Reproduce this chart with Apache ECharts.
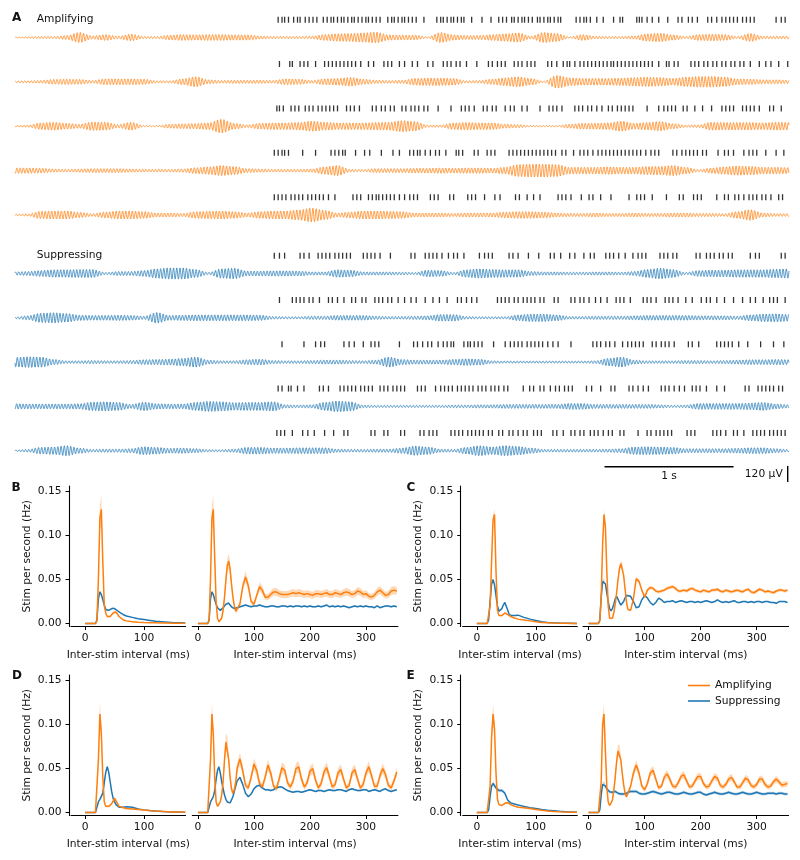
<!DOCTYPE html>
<html><head><meta charset="utf-8">
<script src="https://cdn.jsdelivr.net/npm/echarts@6/dist/echarts.min.js"></script>
<style>html,body{margin:0;padding:0;background:#fff}#c{width:800px;height:860px}</style>
</head><body><div id="c"></div>
<script>
// ================= Panel A : LFP envelopes (µV) read every 0.1 s, and stim times (s) =================
const envTimes = [-2.0,-1.9,-1.8,-1.7,-1.6,-1.5,-1.4,-1.3,-1.2,-1.1,-1.0,-0.9,-0.8,-0.7,-0.6,-0.5,-0.4,-0.3,-0.2,-0.1,
  0.0,0.1,0.2,0.3,0.4,0.5,0.6,0.7,0.8,0.9,1.0,1.1,1.2,1.3,1.4,1.5,1.6,1.7,1.8,1.9,
  2.0,2.1,2.2,2.3,2.4,2.5,2.6,2.7,2.8,2.9,3.0,3.1,3.2,3.3,3.4,3.5,3.6,3.7,3.8,3.9,4.0];

const envAmp1 = [2,6,8,8,15,38,12,22,10,25, 8,8,18,22,20,22,22,20,20,12, 8,8,8,10,22,28,30,35,40,20, 18,18,5,38,20,15,15,22,28,35, 10,38,30,5,22,10,8,8,12,28, 32,20,8,22,25,22,8,30,10,10, 10];
const envAmp2 = [6,8,10,18,20,18,10,22,22,22, 20,8,8,22,38,15,10,12,12,12, 10,22,20,10,22,25,33,20,12,10, 12,25,28,28,25,8,10,20,30,38, 25,5,48,30,25,25,25,28,32,35, 32,25,35,40,40,35,22,20,15,15, 12];
const envAmp3 = [6,8,25,30,22,15,32,30,12,30, 5,4,15,18,20,25,52,22,10,22, 25,25,28,38,30,25,25,25,28,30, 42,35,8,8,25,28,25,25,15,12, 5,5,5,15,22,22,25,38,22,28, 35,20,8,10,30,28,28,28,25,30, 28];
const envAmp4 = [20,20,18,12,10,12,15,15,15,12, 10,10,10,12,22,28,38,30,15,12, 10,10,10,12,28,38,10,8,15,15, 15,18,18,20,18,20,20,18,25,45, 48,48,45,25,25,25,28,25,25,30, 32,38,25,8,20,28,35,32,25,25, 22];
const envAmp5 = [6,8,28,30,30,20,10,22,30,30, 25,15,15,12,25,28,30,25,15,25, 30,30,38,52,35,15,22,30,30,28, 25,15,15,15,12,15,15,15,22,25, 25,22,15,12,12,15,12,12,15,12, 12,15,15,12,12,10,25,40,15,10, 10];
const envSup1 = [12,15,22,28,28,30,30,8,15,15, 22,35,42,42,30,8,35,40,18,18, 20,20,18,12,12,28,25,12,12,12, 10,8,25,22,8,28,35,30,28,28, 15,12,12,10,10,12,12,10,15,30, 40,30,8,22,25,25,28,28,28,32, 35];
const envSup2 = [6,15,35,38,32,20,18,18,20,18, 12,40,18,20,22,22,22,22,22,20, 10,8,8,12,12,18,18,18,12,10, 10,12,15,25,25,10,8,8,8,22, 28,28,22,10,10,12,12,12,15,18, 18,18,18,15,15,15,12,22,28,30, 25];
const envSup3 = [35,40,38,20,10,10,12,10,10,12, 18,20,22,28,38,15,10,10,18,22, 12,10,10,12,15,15,12,10,15,38, 20,15,15,15,20,25,22,10,8,8, 8,8,8,8,8,10,28,38,15,10, 10,10,12,12,10,12,15,18,18,20, 18];
const envSup4 = [20,18,18,18,18,20,32,35,30,15, 32,20,18,18,30,38,35,28,30,30, 35,12,10,12,30,40,35,10,8,8, 8,8,8,8,10,10,12,12,15,15, 15,15,15,22,22,15,15,15,15,15, 12,8,10,22,22,22,22,25,30,18, 12];
const envSup5 = [6,10,25,28,38,20,10,12,12,15, 30,25,18,20,15,8,8,12,25,25, 20,20,22,22,22,12,10,10,12,12, 20,35,28,12,10,25,38,28,38,32, 20,10,10,10,10,10,12,15,28,30, 28,25,15,15,15,15,18,22,22,15, 8];

const spikesAmp1 = [0.04,0.07,0.09,0.12,0.16,0.19,0.21,0.25,0.28,0.31,0.34,0.39,0.42,0.45,0.47,0.50,0.53,0.55,0.58,0.61,0.63,0.66,0.69,0.72,0.74,0.77,0.80,0.83,0.89,0.92,0.94,0.97,1.00,1.02,1.05,1.08,1.11,1.17,1.27,1.30,1.32,1.35,1.38,1.40,1.43,1.46,1.48,1.54,1.62,1.69,1.75,1.78,1.81,1.85,1.87,1.90,1.93,1.95,1.98,2.01,2.05,2.07,2.10,2.13,2.15,2.18,2.21,2.23,2.35,2.38,2.41,2.43,2.46,2.51,2.56,2.64,2.69,2.71,2.82,2.84,2.86,2.90,2.94,2.99,3.06,3.14,3.17,3.22,3.25,3.29,3.37,3.40,3.44,3.48,3.51,3.54,3.57,3.60,3.64,3.67,3.70,3.73,3.90,3.94,3.97];
const spikesAmp2 = [0.05,0.13,0.15,0.21,0.24,0.27,0.33,0.40,0.43,0.46,0.49,0.52,0.55,0.58,0.61,0.64,0.68,0.74,0.78,0.86,0.89,0.92,0.98,1.02,1.08,1.12,1.20,1.24,1.32,1.35,1.38,1.42,1.45,1.50,1.58,1.67,1.70,1.74,1.77,1.80,1.87,1.90,1.93,1.97,2.00,2.03,2.13,2.16,2.20,2.25,2.28,2.30,2.34,2.38,2.41,2.44,2.47,2.50,2.53,2.56,2.59,2.62,2.64,2.67,2.70,2.73,2.76,2.79,2.82,2.85,2.88,2.91,2.94,2.99,3.05,3.07,3.11,3.14,3.24,3.27,3.30,3.34,3.37,3.41,3.44,3.48,3.51,3.55,3.58,3.62,3.65,3.70,3.77,3.82,3.86,3.92,3.99];
const spikesAmp3 = [0.03,0.05,0.08,0.14,0.17,0.20,0.25,0.28,0.31,0.35,0.38,0.41,0.44,0.47,0.50,0.57,0.60,0.63,0.67,0.77,0.80,0.84,0.87,0.91,0.94,1.00,1.03,1.07,1.10,1.13,1.17,1.20,1.28,1.38,1.46,1.49,1.52,1.56,1.63,1.66,1.70,1.73,1.80,1.84,1.87,1.93,1.97,2.07,2.14,2.17,2.20,2.24,2.34,2.37,2.40,2.44,2.47,2.51,2.55,2.60,2.63,2.67,2.70,2.73,2.76,2.79,2.90,2.99,3.03,3.06,3.09,3.12,3.18,3.21,3.27,3.33,3.40,3.48,3.51,3.54,3.57,3.64,3.67,3.70,3.73,3.77,3.85,3.88,3.94];
const spikesAmp4 = [0.01,0.04,0.07,0.09,0.12,0.23,0.33,0.45,0.48,0.51,0.54,0.56,0.64,0.71,0.75,0.84,0.93,0.98,1.06,1.09,1.12,1.14,1.18,1.22,1.26,1.29,1.34,1.42,1.44,1.47,1.56,1.59,1.66,1.69,1.72,1.83,1.86,1.89,1.92,1.95,1.98,2.01,2.04,2.07,2.10,2.13,2.16,2.19,2.24,2.27,2.33,2.38,2.41,2.44,2.48,2.52,2.55,2.58,2.61,2.64,2.67,2.70,2.73,2.76,2.79,2.82,2.85,2.89,2.93,2.96,2.99,3.10,3.13,3.17,3.20,3.23,3.26,3.29,3.33,3.36,3.45,3.50,3.53,3.57,3.65,3.69,3.72,3.75,3.82,3.90,3.96];
const spikesAmp5 = [0.01,0.04,0.07,0.10,0.14,0.17,0.20,0.23,0.27,0.30,0.33,0.36,0.39,0.43,0.48,0.62,0.65,0.68,0.74,0.77,0.80,0.82,0.85,0.88,0.91,0.94,0.98,1.02,1.06,1.09,1.12,1.22,1.25,1.28,1.37,1.40,1.51,1.54,1.57,1.64,1.72,1.76,1.88,1.91,1.97,2.02,2.07,2.21,2.24,2.27,2.31,2.39,2.45,2.48,2.54,2.62,2.76,2.82,2.85,2.88,2.94,3.05,3.15,3.18,3.26,3.29,3.32,3.44,3.50,3.53,3.58,3.61,3.65,3.69,3.72,3.75,3.79,3.82,3.86,3.92,3.95];
const spikesSup1 = [0.01,0.05,0.09,0.21,0.24,0.28,0.35,0.38,0.41,0.44,0.48,0.51,0.54,0.57,0.60,0.70,0.73,0.76,0.79,0.83,0.91,1.07,1.10,1.18,1.21,1.24,1.27,1.31,1.36,1.40,1.43,1.48,1.60,1.64,1.67,1.70,1.83,1.86,1.90,1.98,2.06,2.15,2.18,2.23,2.30,2.34,2.41,2.46,2.49,2.58,2.61,2.64,2.68,2.73,2.79,2.83,2.86,2.89,3.00,3.03,3.06,3.10,3.13,3.28,3.31,3.36,3.39,3.42,3.46,3.49,3.53,3.56,3.70,3.74,3.77,3.94,3.97];
const spikesSup2 = [0.05,0.15,0.18,0.21,0.24,0.28,0.31,0.36,0.43,0.46,0.50,0.55,0.61,0.64,0.69,0.72,0.79,0.82,0.85,0.89,0.92,0.97,1.02,1.07,1.11,1.18,1.24,1.29,1.35,1.43,1.46,1.50,1.54,1.58,1.74,1.77,1.80,1.83,1.87,1.90,1.94,1.97,2.00,2.03,2.07,2.10,2.18,2.21,2.31,2.34,2.38,2.41,2.45,2.50,2.54,2.59,2.66,2.69,2.72,2.77,2.87,2.90,2.93,2.97,3.04,3.07,3.10,3.14,3.20,3.25,3.32,3.36,3.39,3.44,3.50,3.57,3.64,3.70,3.74,3.80,3.85,3.88,3.91,3.97];
const spikesSup3 = [0.07,0.24,0.33,0.37,0.40,0.55,0.59,0.63,0.70,0.76,0.79,0.82,0.98,1.09,1.12,1.16,1.20,1.23,1.28,1.32,1.35,1.38,1.40,1.48,1.51,1.53,1.56,1.59,1.62,1.71,1.80,1.84,1.87,1.90,1.93,1.97,2.00,2.03,2.06,2.09,2.13,2.17,2.21,2.31,2.48,2.51,2.54,2.58,2.61,2.65,2.71,2.75,2.78,2.81,2.84,2.87,2.94,2.97,3.01,3.04,3.07,3.11,3.22,3.25,3.30,3.44,3.47,3.50,3.53,3.56,3.61,3.68,3.78,3.88,3.96];
const spikesSup4 = [0.04,0.07,0.12,0.14,0.19,0.24,0.36,0.39,0.43,0.52,0.55,0.58,0.61,0.64,0.68,0.71,0.74,0.77,0.83,0.86,0.89,0.93,0.96,0.99,1.02,1.12,1.15,1.18,1.26,1.30,1.33,1.36,1.39,1.43,1.46,1.49,1.52,1.55,1.59,1.62,1.65,1.69,1.72,1.75,1.79,1.82,1.94,1.99,2.02,2.07,2.10,2.15,2.19,2.22,2.26,2.29,2.32,2.43,2.47,2.54,2.62,2.65,2.76,2.79,2.83,2.87,2.91,3.01,3.04,3.07,3.11,3.15,3.19,3.25,3.28,3.31,3.36,3.44,3.50,3.66,3.69,3.76,3.79,3.82,3.85,3.88,3.92,3.95];
const spikesSup5 = [0.03,0.06,0.09,0.15,0.23,0.27,0.32,0.40,0.47,0.55,0.58,0.76,0.79,0.86,0.89,0.99,1.02,1.14,1.17,1.21,1.24,1.27,1.38,1.41,1.44,1.47,1.51,1.54,1.57,1.60,1.63,1.67,1.70,1.75,1.78,1.83,1.86,1.90,1.94,1.97,2.02,2.05,2.08,2.17,2.20,2.25,2.31,2.34,2.38,2.41,2.46,2.49,2.52,2.56,2.60,2.63,2.69,2.72,2.83,2.90,2.93,2.97,3.00,3.03,3.06,3.09,3.21,3.24,3.27,3.41,3.44,3.47,3.51,3.57,3.60,3.65,3.72,3.75,3.78,3.81,3.85,3.88,3.91,3.94,3.97];

// ================= Panels B–E : inter-stim interval distributions (Hz) =================
const isiLeftX = [0,10,17.5,20,22.5,25,27.5,30,32.5,35,37.5,40,42.5,45,47.5,50,52.5,55,57.5,60,65,70,80,90,100,110,120,130,140,150,160,170];
const isiRightX = [0,10,17.5,20,22.5,25,27.5,30,32.5,35,37.5,40,42.5,45,47.5,50,52.5,55,57.5,60,62.5,65,67.5,70,
  75,80,85,90,95,100,105,110,115,120,125,130,135,140,145,150,155,160,165,170,175,180,185,190,195,200,
  205,210,215,220,225,230,235,240,245,250,255,260,265,270,275,280,285,290,295,300,305,310,315,320,325,330,335,340,345,350,355];

const B_leftAmp = [0,0,0,0.003,0.05,0.12,0.13,0.07,0.02,0.012, 0.008,0.007,0.008,0.010,0.012,0.0135,0.013,0.011,0.008,0.006, 0.004,0.003,0.002,0.0015,0.0012,0.001,0.0008,0.0006,0.0005,0.0004, 0.0003,0.0002];
const B_leftSup = [0,0,0,0.004,0.028,0.036,0.033,0.027,0.021,0.016, 0.014,0.015,0.016,0.017,0.018,0.017,0.016,0.0145,0.013,0.012, 0.010,0.0085,0.007,0.0055,0.0045,0.0035,0.0025,0.002,0.0015,0.001, 0.0008,0.0005];
const B_rightAmp = [0,0,0,0.003,0.05,0.12,0.13,0.075,0.025,0.006,0.002,0.002,0.006,0.015,0.03,0.05,0.066,0.071,0.062,0.045,0.03,0.02,0.014,0.014,
  0.022,0.042,0.053,0.043,0.025,0.022,0.032,0.042,0.038,0.03, 0.03,0.033,0.036,0.036,0.034,0.033,0.033,0.033,0.034,0.035, 0.034,0.035,0.034,0.033,0.034,0.033,0.032,0.034,0.034,0.033,
  0.034,0.035,0.033,0.033,0.035,0.034,0.033,0.035,0.036,0.035, 0.033,0.034,0.037,0.036,0.033,0.034,0.031,0.03,0.032,0.036, 0.038,0.035,0.032,0.033,0.037,0.038,0.037];
const B_rightSup = [0,0,0,0.004,0.028,0.036,0.033,0.027,0.022,0.018,0.016,0.015,0.016,0.018,0.02,0.022,0.024,0.023,0.021,0.019,0.018,0.017,0.017,0.018,
  0.019,0.02,0.021,0.02,0.019,0.02,0.02,0.021,0.02,0.019, 0.019,0.02,0.02,0.019,0.019,0.02,0.02,0.019,0.02,0.019, 0.02,0.02,0.019,0.02,0.019,0.02,0.019,0.019,0.02,0.019,
  0.02,0.021,0.019,0.02,0.019,0.02,0.019,0.02,0.019,0.018, 0.019,0.02,0.019,0.02,0.019,0.02,0.019,0.019,0.018,0.02, 0.018,0.019,0.02,0.02,0.019,0.02,0.019];

const C_leftAmp = [0,0,0,0.002,0.02,0.07,0.118,0.124,0.06,0.015, 0.009,0.008,0.009,0.011,0.012,0.0115,0.010,0.009,0.008,0.007, 0.006,0.005,0.004,0.003,0.002,0.0012,0.0008,0.0005,0.0003,0.0002, 0.0001,0.0001];
const C_leftSup = [0,0,0,0.004,0.025,0.045,0.05,0.044,0.032,0.02, 0.014,0.014,0.017,0.021,0.024,0.022,0.015,0.010,0.009,0.009, 0.009,0.0095,0.007,0.005,0.0035,0.002,0.0012,0.0008,0.0005,0.0003, 0.0002,0.0001];
const C_rightAmp = [0,0,0,0.003,0.03,0.09,0.124,0.11,0.06,0.02,0.006,0.004,0.006,0.012,0.022,0.035,0.05,0.062,0.068,0.066,0.055,0.04,0.025,0.016,
  0.015,0.028,0.051,0.048,0.038,0.03,0.038,0.041,0.04,0.037, 0.036,0.037,0.038,0.040,0.041,0.042,0.040,0.037,0.037,0.038, 0.037,0.039,0.040,0.038,0.037,0.036,0.038,0.037,0.036,0.038,
  0.038,0.039,0.037,0.036,0.038,0.037,0.036,0.037,0.038,0.037, 0.036,0.038,0.039,0.036,0.035,0.037,0.039,0.038,0.036,0.037, 0.036,0.035,0.037,0.038,0.038,0.037,0.038];
const C_rightSup = [0,0,0,0.004,0.03,0.048,0.05,0.045,0.035,0.025,0.017,0.0145,0.017,0.022,0.028,0.031,0.029,0.024,0.021,0.022,0.025,0.029,0.032,0.032,
  0.031,0.025,0.018,0.019,0.027,0.032,0.029,0.024,0.021,0.024, 0.029,0.027,0.024,0.025,0.025,0.026,0.024,0.025,0.026,0.025, 0.024,0.025,0.025,0.024,0.025,0.024,0.025,0.026,0.025,0.024,
  0.025,0.027,0.025,0.024,0.025,0.024,0.025,0.026,0.024,0.024, 0.025,0.025,0.024,0.025,0.024,0.025,0.025,0.024,0.025,0.025, 0.024,0.024,0.023,0.025,0.025,0.025,0.024];

const D_leftAmp = [0,0,0,0.002,0.06,0.112,0.09,0.04,0.012,0.007, 0.006,0.007,0.008,0.010,0.013,0.016,0.014,0.010,0.007,0.0065, 0.0055,0.0045,0.004,0.0034,0.0028,0.002,0.0016,0.0013,0.001,0.0007, 0.0005,0.0003];
const D_leftSup = [0,0,0,0.006,0.012,0.015,0.017,0.022,0.034,0.046, 0.052,0.046,0.035,0.024,0.016,0.012,0.009,0.007,0.006,0.006, 0.006,0.0065,0.006,0.004,0.003,0.0022,0.0016,0.0012,0.001,0.0007, 0.0005,0.0003];
const D_rightAmp = [0,0,0,0.002,0.06,0.112,0.09,0.04,0.012,0.007,0.008,0.012,0.02,0.035,0.06,0.08,0.078,0.06,0.04,0.027,0.022,0.026,0.035,0.05,
  0.061,0.048,0.031,0.028,0.04,0.055,0.048,0.033,0.029,0.04, 0.054,0.045,0.03,0.027,0.038,0.051,0.048,0.034,0.029,0.036, 0.05,0.052,0.038,0.029,0.034,0.047,0.05,0.037,0.028,0.033,
  0.046,0.051,0.04,0.029,0.032,0.045,0.049,0.038,0.028,0.031, 0.045,0.049,0.038,0.028,0.032,0.045,0.052,0.042,0.03,0.03, 0.042,0.05,0.043,0.031,0.028,0.036,0.046];
const D_rightSup = [0,0,0,0.006,0.012,0.015,0.018,0.025,0.038,0.048,0.052,0.045,0.035,0.027,0.02,0.015,0.012,0.011,0.011,0.013,0.018,0.024,0.03,0.036,
  0.04,0.032,0.022,0.018,0.021,0.027,0.03,0.031,0.028,0.026, 0.026,0.025,0.026,0.028,0.029,0.029,0.027,0.025,0.024,0.023, 0.024,0.024,0.023,0.024,0.025,0.026,0.025,0.024,0.025,0.025,
  0.024,0.025,0.026,0.025,0.025,0.026,0.026,0.025,0.024,0.026, 0.027,0.026,0.025,0.025,0.026,0.026,0.024,0.025,0.026,0.025, 0.024,0.026,0.027,0.025,0.024,0.025,0.026];

const E_leftAmp = [0,0,0,0.002,0.03,0.085,0.112,0.095,0.045,0.015, 0.009,0.008,0.008,0.009,0.0105,0.0112,0.0112,0.010,0.009,0.008, 0.007,0.006,0.0055,0.0045,0.0035,0.0025,0.0018,0.0012,0.0008,0.0005, 0.0003,0.0002];
const E_leftSup = [0,0,0,0.003,0.018,0.03,0.033,0.031,0.028,0.026, 0.025,0.025,0.025,0.024,0.022,0.018,0.014,0.012,0.011,0.0105, 0.0095,0.0085,0.007,0.0055,0.0045,0.0035,0.0026,0.002,0.0014,0.001, 0.0007,0.0004];
const E_rightAmp = [0,0,0,0.002,0.035,0.1,0.112,0.07,0.03,0.012,0.008,0.009,0.014,0.025,0.04,0.058,0.07,0.07,0.06,0.045,0.032,0.022,0.018,0.02,
  0.03,0.045,0.054,0.045,0.03,0.026,0.033,0.045,0.048,0.038, 0.028,0.03,0.04,0.044,0.038,0.03,0.029,0.034,0.041,0.043, 0.036,0.029,0.03,0.036,0.041,0.041,0.033,0.029,0.03,0.036,
  0.041,0.039,0.031,0.029,0.032,0.038,0.04,0.035,0.029,0.029, 0.034,0.039,0.037,0.031,0.029,0.032,0.038,0.038,0.032,0.029, 0.03,0.035,0.038,0.035,0.031,0.032,0.033];
const E_rightSup = [0,0,0,0.003,0.02,0.032,0.033,0.03,0.027,0.025,0.0235,0.023,0.023,0.024,0.024,0.023,0.022,0.021,0.021,0.021,0.021,0.021,0.022,0.023,
  0.024,0.024,0.024,0.022,0.021,0.021,0.022,0.023,0.024,0.023, 0.022,0.021,0.022,0.023,0.023,0.022,0.021,0.021,0.022,0.023, 0.022,0.021,0.021,0.022,0.023,0.023,0.021,0.02,0.021,0.022,
  0.023,0.022,0.021,0.021,0.022,0.023,0.022,0.021,0.021,0.022, 0.023,0.022,0.021,0.021,0.022,0.023,0.022,0.021,0.021,0.022, 0.022,0.022,0.021,0.022,0.022,0.021,0.021];

// relative half-width of the shaded confidence band, read per panel
const ciRelAmp = [0.12, 0.05, 0.12, 0.10];
const ciRelSup = [0.04, 0.03, 0.04, 0.08];

const yTicks = [0, 0.05, 0.10, 0.15];
const xTicksLeft = [0, 100];
const xTicksRight = [0, 100, 200, 300];

// ================= styling / layout =================
const ORANGE = '#ff7f0e', BLUE = '#1f77b4', FONT = 'DejaVu Sans', TXT = '#111';
const CARRIER_HZ = 40;
const FS = 10.7;

const grid = [], xAxis = [], yAxis = [], series = [];
function addGrid(g, xa, ya) {
  grid.push(g);
  const gi = grid.length - 1;
  xAxis.push(Object.assign({ gridIndex: gi }, xa));
  yAxis.push(Object.assign({ gridIndex: gi }, ya));
  return gi;
}

// ---------- Panel A ----------
const traceRows = [
  { env: envAmp1, spikes: spikesAmp1, color: ORANGE, cy: 37.5 },
  { env: envAmp2, spikes: spikesAmp2, color: ORANGE, cy: 81.8 },
  { env: envAmp3, spikes: spikesAmp3, color: ORANGE, cy: 126.2 },
  { env: envAmp4, spikes: spikesAmp4, color: ORANGE, cy: 170.6 },
  { env: envAmp5, spikes: spikesAmp5, color: ORANGE, cy: 215.0 },
  { env: envSup1, spikes: spikesSup1, color: BLUE, cy: 273.5 },
  { env: envSup2, spikes: spikesSup2, color: BLUE, cy: 317.8 },
  { env: envSup3, spikes: spikesSup3, color: BLUE, cy: 362.1 },
  { env: envSup4, spikes: spikesSup4, color: BLUE, cy: 406.4 },
  { env: envSup5, spikes: spikesSup5, color: BLUE, cy: 450.7 }
];
const A_LEFT = 15, A_WIDTH = 774;
let lastTraceGrid = 0;
traceRows.forEach((row, r) => {
  const gi = addGrid({ left: A_LEFT, width: A_WIDTH, top: row.cy - 16, height: 32 },
    { type: 'value', min: -2, max: 4, show: false },
    { type: 'value', min: -120, max: 120, show: false });
  lastTraceGrid = gi;
  const env = row.env, phase = r * 1.37;
  series.push({
    type: 'custom', xAxisIndex: gi, yAxisIndex: gi, silent: true, clip: false,
    data: envTimes.map((t, i) => [t, env[i]]),
    renderItem: (params, api) => {
      const i = params.dataIndex;
      if (i >= envTimes.length - 1) return null;
      const t0 = envTimes[i], t1 = envTimes[i + 1], e0 = env[i], e1 = env[i + 1];
      const pts = [], n = 60;
      for (let k = 0; k <= n; k++) {
        const u = k / n, t = t0 + (t1 - t0) * u;
        const e = e0 + (e1 - e0) * (1 - Math.cos(Math.PI * u)) / 2;
        pts.push(api.coord([t, e * Math.sin(2 * Math.PI * CARRIER_HZ * t + phase)]));
      }
      return { type: 'polyline', shape: { points: pts }, style: { stroke: row.color, lineWidth: 0.75, fill: null } };
    }
  });
  const sg = addGrid({ left: A_LEFT, width: A_WIDTH, top: row.cy - 17.8 - 3, height: 6 },
    { type: 'value', min: -2, max: 4, show: false },
    { type: 'value', min: -1, max: 1, show: false });
  series.push({
    type: 'scatter', xAxisIndex: sg, yAxisIndex: sg, silent: true,
    symbol: 'rect', symbolSize: [1.3, 6], itemStyle: { color: '#000' },
    data: row.spikes.map(t => [t, 0])
  });
});
// scale bars (1 s, 120 µV) drawn in the last trace's coordinates
const scaleBarStart = 2.57, scaleBarSeconds = 1, scaleBarMicroV = 120, scaleBarLevel = -120;
series.push({
  type: 'custom', xAxisIndex: lastTraceGrid, yAxisIndex: lastTraceGrid, silent: true, clip: false,
  data: [[scaleBarStart, scaleBarLevel]],
  renderItem: (params, api) => {
    const a = api.coord([scaleBarStart, scaleBarLevel]);
    const b = api.coord([scaleBarStart + scaleBarSeconds, scaleBarLevel]);
    const v0 = api.coord([3.99, scaleBarLevel + 5]);
    const v1 = api.coord([3.99, scaleBarLevel + 5 - scaleBarMicroV]);
    return { type: 'group', children: [
      { type: 'line', shape: { x1: a[0], y1: a[1], x2: b[0], y2: b[1] }, style: { stroke: '#000', lineWidth: 1.4 } },
      { type: 'line', shape: { x1: v0[0], y1: v0[1], x2: v1[0], y2: v1[1] }, style: { stroke: '#000', lineWidth: 1.4 } },
      { type: 'text', x: (a[0] + b[0]) / 2, y: a[1] + 10, style: { text: '1 s', fill: TXT, fontSize: FS, fontFamily: FONT, align: 'center', verticalAlign: 'middle' } },
      { type: 'text', x: v0[0] - 5, y: (v0[1] + v1[1]) / 2, style: { text: '120 µV', fill: TXT, fontSize: FS, fontFamily: FONT, align: 'right', verticalAlign: 'middle' } }
    ] };
  }
});

// ---------- Panels B–E ----------
const panels = [
  { lx: 71,  rx: 192.3, top: 486, la: B_leftAmp, lb: B_leftSup, ra: B_rightAmp, rb: B_rightSup },
  { lx: 462.7, rx: 583, top: 486, la: C_leftAmp, lb: C_leftSup, ra: C_rightAmp, rb: C_rightSup },
  { lx: 71,  rx: 192.3, top: 675, la: D_leftAmp, lb: D_leftSup, ra: D_rightAmp, rb: D_rightSup },
  { lx: 462.7, rx: 583, top: 675, la: E_leftAmp, lb: E_leftSup, ra: E_rightAmp, rb: E_rightSup }
];
const LW = 114.6, RW = 205.6, PH = 140.5;
const Y_MIN = -0.0034, Y_MAX = 0.1565;
const axisLine = { show: true, onZero: false, lineStyle: { color: '#000', width: 1.1 } };
const txt = { fontSize: FS, color: TXT, fontFamily: FONT };

function xAx(min, max, ticks) {
  return {
    type: 'value', min, max, axisLine,
    axisTick: { show: true, length: 3.5, lineStyle: { color: '#000', width: 1 }, customValues: ticks },
    axisLabel: Object.assign({ customValues: ticks, margin: 6.5 }, txt),
    splitLine: { show: false },
    name: 'Inter-stim interval (ms)', nameLocation: 'middle', nameGap: 23.5, nameTextStyle: txt
  };
}
function yAx(show) {
  if (!show) return { type: 'value', min: Y_MIN, max: Y_MAX, show: false };
  return {
    type: 'value', min: Y_MIN, max: Y_MAX, offset: 2, axisLine,
    axisTick: { show: true, length: 3.5, lineStyle: { color: '#000', width: 1 }, customValues: yTicks },
    axisLabel: Object.assign({ customValues: yTicks, margin: 7.5, formatter: v => v.toFixed(2) }, txt),
    splitLine: { show: false },
    name: 'Stim per second (Hz)', nameLocation: 'middle', nameGap: 36.5, nameRotate: 90, nameTextStyle: txt
  };
}
function bandSeries(gi, xs, ys, rel, fill) {
  const pts = xs.map((x, i) => [x, ys[i] * (1 - rel), ys[i] * (1 + rel)]).filter(p => !isNaN(p[1]));
  return {
    type: 'custom', xAxisIndex: gi, yAxisIndex: gi, silent: true, z: 1, data: pts,
    renderItem: (params, api) => {
      if (params.dataIndex !== 0) return null;
      const up = pts.map(p => api.coord([p[0], p[2]]));
      const lo = pts.map(p => api.coord([p[0], p[1]])).reverse();
      return { type: 'polygon', shape: { points: up.concat(lo) }, style: { fill } };
    }
  };
}
function lineSeries(gi, name, xs, ys, color) {
  const n = Math.min(xs.length, ys.length);
  const d = [];
  for (let i = 0; i < n; i++) d.push([xs[i], ys[i]]);
  return { type: 'line', name, xAxisIndex: gi, yAxisIndex: gi, data: d, showSymbol: false, symbol: 'none',
    lineStyle: { color, width: 1.5 }, itemStyle: { color }, z: 3, silent: true };
}
panels.forEach((p, k) => {
  const gl = addGrid({ left: p.lx, width: LW, top: p.top, height: PH }, xAx(-24, 170.5, xTicksLeft), yAx(true));
  const gr = addGrid({ left: p.rx, width: RW, top: p.top, height: PH }, xAx(-10, 357, xTicksRight), yAx(false));
  series.push(bandSeries(gl, isiLeftX, p.lb, ciRelSup[k], 'rgba(31,119,180,0.25)'));
  series.push(bandSeries(gl, isiLeftX, p.la, ciRelAmp[k], 'rgba(255,127,14,0.3)'));
  series.push(bandSeries(gr, isiRightX, p.rb, ciRelSup[k], 'rgba(31,119,180,0.25)'));
  series.push(bandSeries(gr, isiRightX, p.ra, ciRelAmp[k], 'rgba(255,127,14,0.3)'));
  series.push(lineSeries(gl, 'Suppressing', isiLeftX, p.lb, BLUE));
  series.push(lineSeries(gl, 'Amplifying', isiLeftX, p.la, ORANGE));
  series.push(lineSeries(gr, 'Suppressing', isiRightX, p.rb, BLUE));
  series.push(lineSeries(gr, 'Amplifying', isiRightX, p.ra, ORANGE));
});

function label(text, x, y, bold, size) {
  return { type: 'text', x, y, silent: true,
    style: { text, fill: TXT, fontSize: size || FS, fontFamily: FONT, fontWeight: bold ? 'bold' : 'normal', align: 'left', verticalAlign: 'middle' } };
}

const option = {
  animation: false,
  backgroundColor: '#fff',
  grid, xAxis, yAxis, series,
  legend: {
    data: ['Amplifying', 'Suppressing'], left: 688, top: 679, orient: 'vertical', padding: 0,
    icon: 'rect', itemWidth: 22, itemHeight: 1.6, itemGap: 2.5, selectedMode: false,
    textStyle: Object.assign({ lineHeight: 13 }, txt)
  },
  graphic: [
    label('A', 12, 18, true, 12),
    label('Amplifying', 36.7, 18.8),
    label('Suppressing', 36.7, 255),
    label('B', 11.5, 488, true, 12),
    label('C', 406.5, 488, true, 12),
    label('D', 12, 676, true, 12),
    label('E', 406.5, 676, true, 12)
  ]
};
const chart = echarts.init(document.getElementById('c'), null, { renderer: 'canvas', width: 800, height: 860 });
chart.setOption(option);
</script>
</body></html>
